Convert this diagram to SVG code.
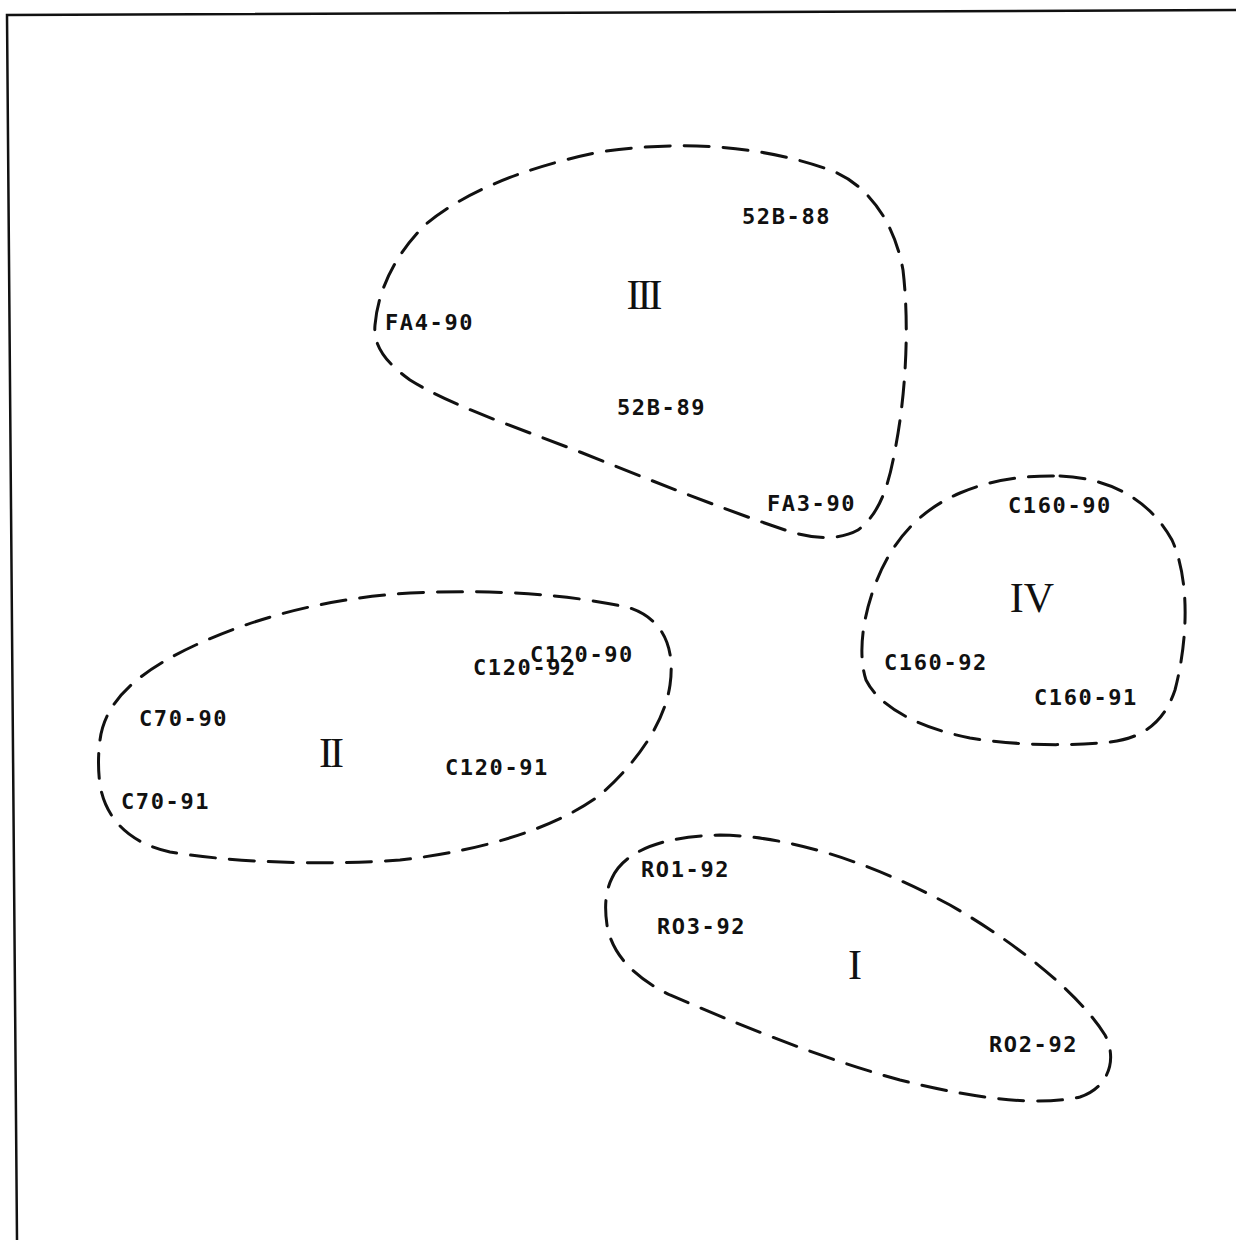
<svg xmlns="http://www.w3.org/2000/svg" width="1236" height="1240" viewBox="0 0 1236 1240">
<style>
.bg{fill:#fff}
.frame{fill:none;stroke:#111;stroke-width:2.5}
.cluster{fill:none;stroke:#111;stroke-width:3;stroke-dasharray:25 14;stroke-linecap:round}
.lbl{font-family:"DejaVu Sans Mono","Liberation Mono",monospace;font-size:22px;font-weight:bold;letter-spacing:1.6px;fill:#111}
.num{font-family:"Liberation Serif","DejaVu Serif",serif;font-size:42px;fill:#111;text-anchor:middle}
</style>
<rect class="bg" x="0" y="0" width="1236" height="1240"/>
<g id="frame">
<polyline class="frame" points="1236,10 7,15 17,1240"/>
</g>
<g id="connectors"></g>
<g id="cluster-III">
<path class="cluster" d="M375,325 C378,290 395,255 425,225 C460,195 520,168 600,152 C680,140 760,145 830,170 C870,185 895,225 903,270 C910,330 905,400 895,450 C888,490 878,515 858,530 C840,540 815,540 785,530 C720,508 650,480 580,452 C510,425 450,405 410,380 C385,362 373,345 375,325 Z"/>
<text class="lbl" x="742" y="224">52B-88</text>
<text class="lbl" x="385" y="330">FA4-90</text>
<text class="lbl" x="617" y="415">52B-89</text>
<text class="lbl" x="767" y="511">FA3-90</text>
<text class="num" x="643" y="309" letter-spacing="-3">III</text>
</g>
<g id="cluster-IV">
<path class="cluster" d="M1060,476 C1110,478 1150,500 1172,540 C1190,580 1188,640 1175,690 C1165,720 1145,738 1110,742 C1070,746 1020,746 970,738 C920,728 880,708 866,680 C858,655 862,620 875,585 C892,540 920,510 960,493 C990,480 1025,475 1060,476 Z"/>
<text class="lbl" x="1008" y="513">C160-90</text>
<text class="lbl" x="884" y="670">C160-92</text>
<text class="lbl" x="1034" y="705">C160-91</text>
<text class="num" x="1032" y="612">IV</text>
</g>
<g id="cluster-II">
<path class="cluster" d="M100,740 C105,700 140,670 200,643 C260,616 330,598 410,593 C490,589 570,594 630,608 C665,620 675,650 670,685 C665,720 640,760 600,795 C560,825 490,850 400,860 C320,866 230,862 170,852 C125,842 105,815 100,785 C98,770 98,755 100,740 Z"/>
<text class="lbl" x="530" y="662">C120-90</text>
<text class="lbl" x="473" y="675">C120-92</text>
<text class="lbl" x="139" y="726">C70-90</text>
<text class="lbl" x="445" y="775">C120-91</text>
<text class="lbl" x="121" y="809">C70-91</text>
<text class="num" x="330" y="767" letter-spacing="-3">II</text>
</g>
<g id="cluster-I">
<path class="cluster" d="M612,878 C625,850 665,836 720,835 C790,836 870,862 950,905 C1020,945 1080,995 1105,1035 C1118,1060 1108,1088 1080,1097 C1040,1106 980,1100 900,1080 C820,1058 740,1025 670,995 C635,978 612,955 607,925 C604,905 606,890 612,878 Z"/>
<text class="lbl" x="641" y="877">RO1-92</text>
<text class="lbl" x="657" y="934">RO3-92</text>
<text class="lbl" x="989" y="1052">RO2-92</text>
<text class="num" x="855" y="979">I</text>
</g>
</svg>
